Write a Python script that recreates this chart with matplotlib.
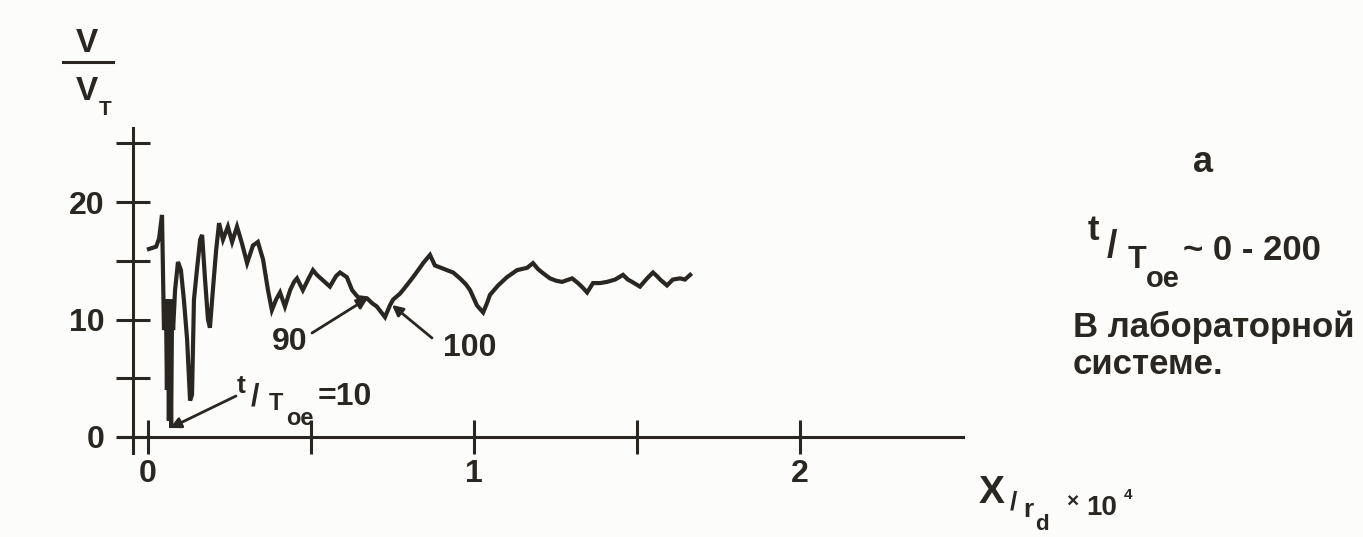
import matplotlib
matplotlib.use("Agg")
import matplotlib.pyplot as plt
from matplotlib.lines import Line2D

# ---------------- data ----------------
x_vals = [0.003, 0.025, 0.034, 0.043, 0.049, 0.055, 0.058, 0.061, 0.064, 0.067,
          0.071, 0.074, 0.077, 0.083, 0.092, 0.101, 0.110, 0.120, 0.129, 0.135,
          0.141, 0.150, 0.160, 0.166, 0.175, 0.184, 0.190, 0.199, 0.209, 0.218,
          0.230, 0.245, 0.258, 0.273, 0.288, 0.304, 0.322, 0.337, 0.353, 0.368,
          0.380, 0.393, 0.405, 0.420, 0.436, 0.448, 0.457, 0.475, 0.491, 0.506,
          0.518, 0.534, 0.558, 0.577, 0.589, 0.610, 0.626, 0.644, 0.672, 0.687,
          0.702, 0.727, 0.742, 0.752, 0.773, 0.782, 0.813, 0.834, 0.844, 0.865,
          0.880, 0.899, 0.917, 0.936, 0.957, 0.975, 0.988, 1.009, 1.028, 1.040,
          1.049, 1.074, 1.101, 1.132, 1.163, 1.181, 1.196, 1.209, 1.233, 1.252,
          1.270, 1.301, 1.319, 1.334, 1.347, 1.365, 1.387, 1.408, 1.433, 1.457,
          1.472, 1.485, 1.509, 1.531, 1.549, 1.561, 1.571, 1.592, 1.610, 1.632,
          1.647, 1.663]
v_vals = [16.0, 16.2, 16.9, 18.9, 9.1, 11.7, 4.0, 11.7, 1.4, 10.8,
          0.8, 11.7, 9.1, 12.5, 14.9, 14.2, 11.7, 8.3, 3.1, 3.6,
          11.7, 14.2, 16.8, 17.2, 13.4, 10.0, 9.3, 12.5, 15.9, 18.2,
          16.8, 17.9, 16.6, 17.9, 16.5, 14.8, 16.3, 16.6, 15.1, 12.5,
          10.8, 11.7, 12.3, 11.1, 12.5, 13.2, 13.5, 12.5, 13.4, 14.2,
          13.8, 13.4, 12.8, 13.7, 14.0, 13.6, 12.5, 11.9, 11.8, 11.4,
          11.1, 10.2, 11.2, 11.7, 12.2, 12.5, 13.6, 14.4, 14.8, 15.5,
          14.6, 14.4, 14.2, 14.0, 13.5, 13.0, 12.5, 11.2, 10.6, 11.4,
          12.1, 12.9, 13.6, 14.2, 14.4, 14.8, 14.3, 14.0, 13.5, 13.3,
          13.2, 13.5, 13.1, 12.7, 12.3, 13.1, 13.1, 13.2, 13.4, 13.8,
          13.4, 13.2, 12.8, 13.5, 14.0, 13.7, 13.4, 12.9, 13.4, 13.5,
          13.4, 13.8]

x_ticks = [0, 0.5, 1, 1.5, 2]
x_ticklabels = ["0", "", "1", "", "2"]
y_ticks = [0, 5, 10, 15, 20, 25]
y_ticklabels = ["0", "", "10", "", "20", ""]

# ---------------- styling ----------------
INK = "#2a2622"
BG = "#fcfcfa"
FONT = "Liberation Sans"
W, H = 1363, 537

plt.rcParams["font.family"] = [FONT, "DejaVu Sans"]
plt.rcParams["font.weight"] = "bold"

fig = plt.figure(figsize=(W / 100, H / 100), dpi=100, facecolor=BG)
ax = fig.add_axes([0, 0, 1, 1])
ax.set_facecolor(BG)

# pixel mapping: x=0 at px 148, 326 px per unit; y=0 at py 437, 11.75 px per unit
px0, sx = 148, 326.0
py0, sy = 437, 11.75
ax.set_xlim(-px0 / sx, (W - px0) / sx)
ax.set_ylim(-(H - py0) / sy, py0 / sy)

ax.plot(x_vals, v_vals, color=INK, lw=3.0, solid_joinstyle="miter")

for s in ("top", "right"):
    ax.spines[s].set_visible(False)
ax.spines["left"].set_position(("data", -15 / sx))
ax.spines["bottom"].set_position(("data", 0))
ax.spines["left"].set_bounds(-1.4, 26.3)
ax.spines["bottom"].set_bounds(-0.09, 2.5)
for s in ("left", "bottom"):
    ax.spines[s].set_color(INK)
    ax.spines[s].set_linewidth(2.2)

ax.set_xticks(x_ticks)
ax.set_xticklabels(x_ticklabels)
ax.set_yticks(y_ticks)
ax.set_yticklabels(y_ticklabels)
ax.tick_params(axis="x", direction="inout", length=24, width=2.2, color=INK,
               pad=4, labelsize=23, labelcolor=INK)
ax.tick_params(axis="y", direction="inout", length=25, width=2.2, color=INK,
               pad=8, labelsize=23, labelcolor=INK)
for lab in ax.get_xticklabels() + ax.get_yticklabels():
    lab.set_fontweight("bold")


def fp(px, py):
    return (px / W, 1 - py / H)


def txt(px, py, s, size, ha="left", va="baseline", **kw):
    fig.text(*fp(px, py), s, fontsize=size, ha=ha, va=va, color=INK,
             fontweight="bold", family=[FONT, "DejaVu Sans"], **kw)


# y-axis label V / V_T
txt(87, 52, "V", 24, ha="center")
fig.add_artist(Line2D([63 / W, 113 / W], [1 - 62 / H, 1 - 62 / H],
                      transform=fig.transFigure, color=INK, lw=2.2))
txt(87, 100, "V", 24, ha="center")
txt(105, 115, "T", 15, ha="center")

# x-axis label X / r_d x 10^4
txt(992, 503, "X", 28, ha="center")
txt(1013, 509, "/", 19, ha="center")
txt(1028, 517, "r", 19, ha="center")
txt(1042, 530, "d", 16, ha="center")
txt(1072, 508, "×", 15, ha="center")
txt(1102, 515, "10", 20, ha="center")
txt(1128, 499, "4", 11, ha="center")

# annotations
arrow = dict(arrowstyle="-|>", color=INK, lw=2.0, mutation_scale=16,
             shrinkA=0, shrinkB=0)
txt(290, 350, "90", 23, ha="center")
ax.annotate("", xy=fp(368, 298), xycoords="figure fraction",
            xytext=fp(312, 333), textcoords="figure fraction", arrowprops=arrow)
txt(470, 356, "100", 23, ha="center")
ax.annotate("", xy=fp(392, 305), xycoords="figure fraction",
            xytext=fp(432, 338), textcoords="figure fraction", arrowprops=arrow)

# t/T_oe = 10
txt(241, 393, "t", 19, ha="center")
txt(255, 405, "/", 22, ha="center")
txt(276, 410, "T", 17, ha="center")
txt(286, 425, "oe", 17, ha="left")
txt(318, 405, "=10", 23, ha="left")
ax.annotate("", xy=fp(170, 428), xycoords="figure fraction",
            xytext=fp(236, 396), textcoords="figure fraction", arrowprops=arrow)

# right-hand labels
txt(1203, 172, "a", 26, ha="center")
txt(1093, 240, "t", 25, ha="center")
txt(1112, 257, "/", 27, ha="center")
txt(1137, 268, "T", 22, ha="center")
txt(1163, 287, "oe", 21, ha="center")
txt(1183, 260, "~ 0 - 200", 25, ha="left")
txt(1073, 337, "В лабораторной", 25, ha="left")
txt(1073, 374, "системе.", 25, ha="left")

fig.savefig("out.png", dpi=100, facecolor=BG)
